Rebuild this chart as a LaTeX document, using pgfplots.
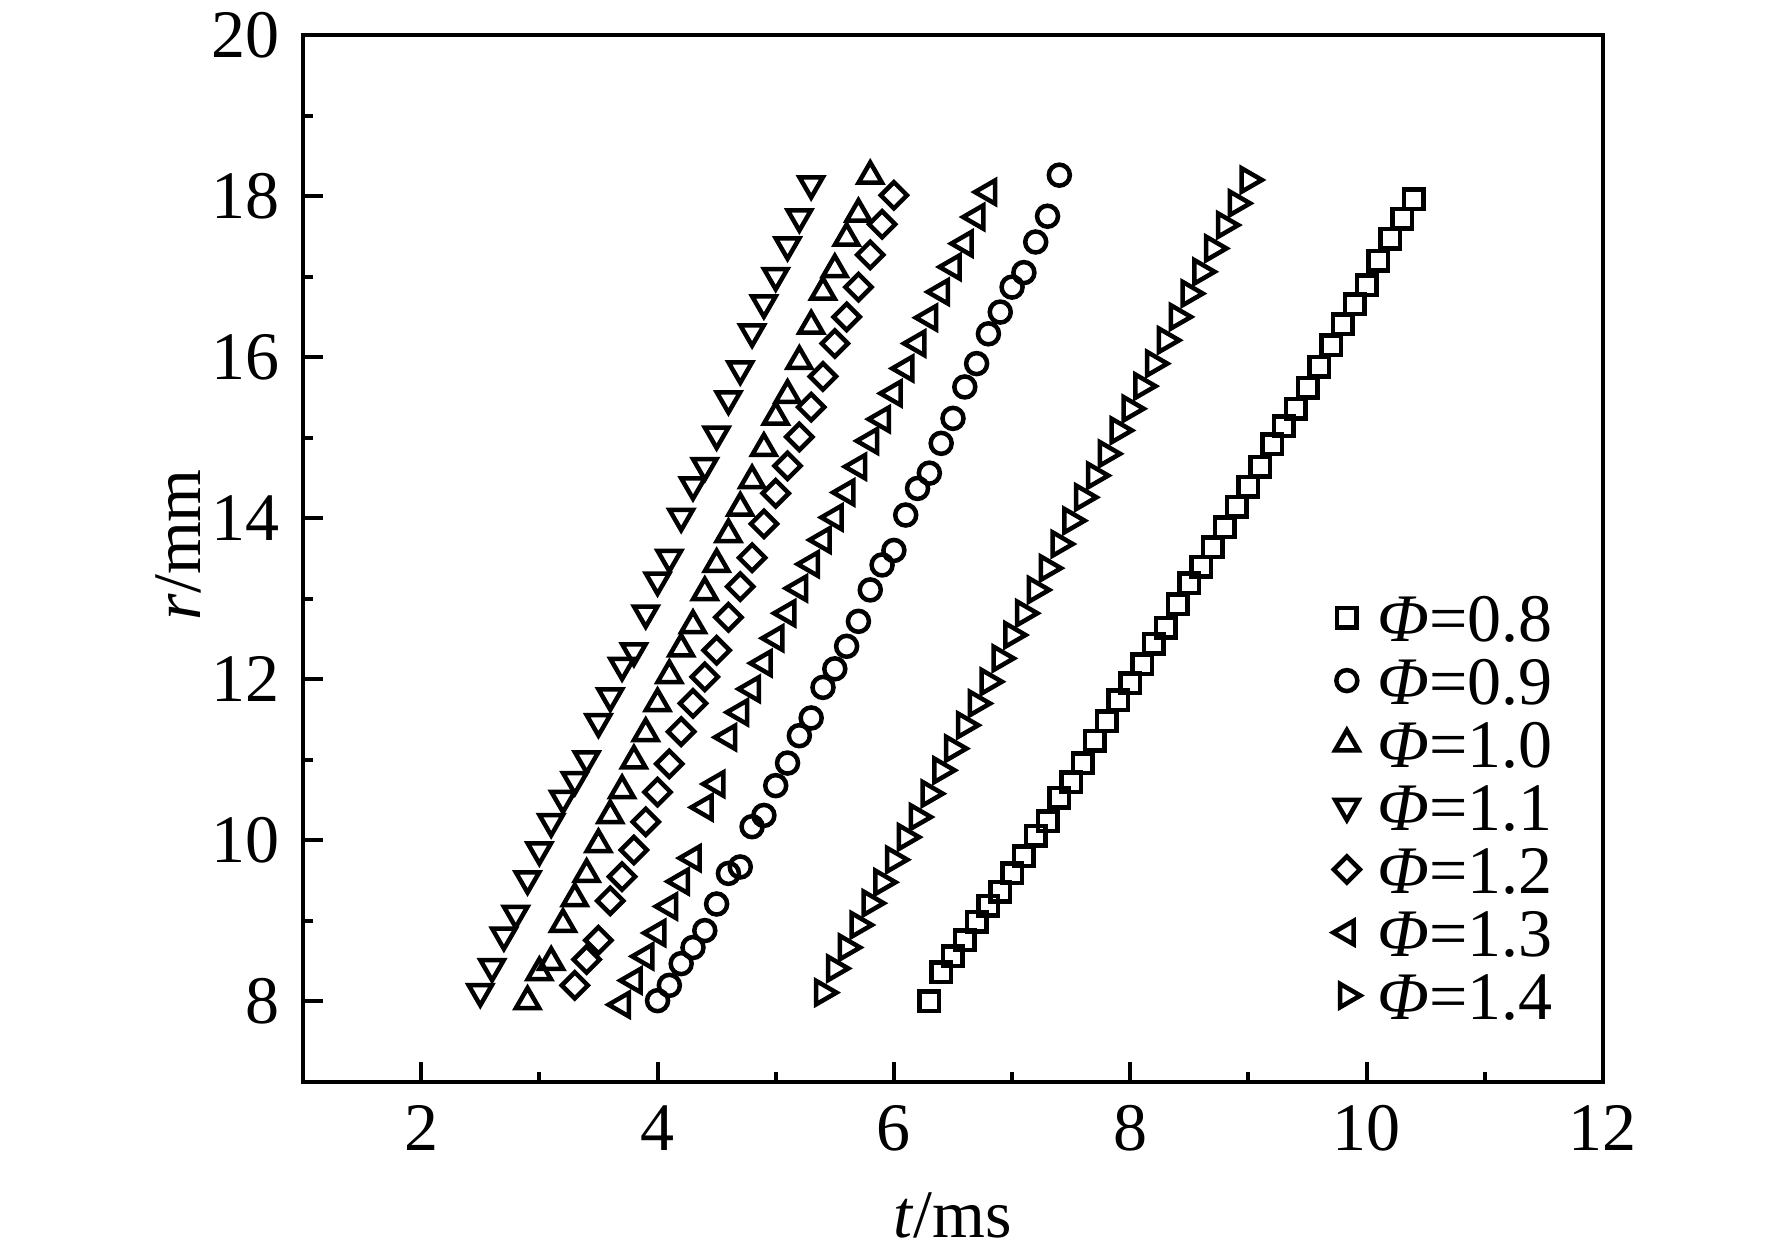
\documentclass[border=0pt]{standalone}
\usepackage{fontspec}
\setmainfont{Liberation Serif}
\usepackage{pgfplots}
\pgfplotsset{compat=1.18}
\begin{document}
\fontsize{13.6pt}{16pt}\selectfont
\begin{tikzpicture}
\begin{axis}[name=ax, scale only axis, width=260pt, height=209.4pt,
  xmin=1, xmax=12, ymin=7, ymax=20,
  xtick={2,4,...,12}, ytick={8,10,...,20},
  minor x tick num=1, minor y tick num=1,
  tick align=inside, tick pos=left,
  major tick length=4pt, minor tick length=2pt,
  axis line style={line width=0.8pt},
  every tick/.style={line width=0.8pt, black},
  /pgf/number format/assume math mode=true,
  xlabel={\textit{t}/ms}, ylabel={\textit{r}/mm},
  x label style={at={(axis description cs:0.5,-0.127)}, anchor=center},
  y label style={at={(axis description cs:-0.096,0.513)}, anchor=center},
  legend cell align=left,
  legend image code/.code={\draw[mark repeat=2,mark phase=2,#1] plot coordinates {(0cm,0cm) (0.12cm,0cm) (0.24cm,0cm)};},
  legend style={draw=none, fill=none, inner sep=0pt, row sep=0pt,
    at={(axis cs:9.71,13.17)}, anchor=north west,
    nodes={inner xsep=3.5pt, inner ysep=1.5pt, text height=9.6pt, text depth=0pt}},
  every axis plot/.append style={only marks, black, line width=0.9pt},
]
% Phi = 0.8
\addplot[mark=square, mark size=1.95pt, mark options={line width=0.9pt, fill=none, draw=black}] coordinates {
(6.3,8.00)(6.4,8.36)(6.5,8.56)(6.6,8.76)(6.7,8.99)(6.8,9.19)(6.9,9.36)(7.0,9.59)
(7.1,9.80)(7.2,10.06)(7.3,10.24)(7.4,10.53)(7.5,10.72)(7.6,10.96)(7.7,11.24)(7.8,11.48)
(7.9,11.74)(8.0,11.95)(8.1,12.19)(8.2,12.44)(8.3,12.64)(8.4,12.93)(8.5,13.19)(8.6,13.40)
(8.7,13.64)(8.8,13.89)(8.9,14.14)(9.0,14.39)(9.1,14.64)(9.2,14.92)(9.3,15.14)(9.4,15.36)
(9.5,15.62)(9.6,15.88)(9.7,16.15)(9.8,16.41)(9.9,16.66)(10.0,16.89)(10.1,17.20)(10.2,17.47)
(10.3,17.72)(10.4,17.96)};
\addlegendentry{\textit{Φ}=0.8}
% Phi = 0.9
\addplot[mark=o, mark size=2.1pt, mark options={line width=0.9pt, fill=none, draw=black}] coordinates {
(4.0,8.01)(4.1,8.20)(4.2,8.47)(4.3,8.67)(4.4,8.88)(4.5,9.21)(4.6,9.59)(4.7,9.67)
(4.8,10.17)(4.9,10.31)(5.0,10.68)(5.1,10.96)(5.2,11.30)(5.3,11.52)(5.4,11.90)(5.5,12.13)
(5.6,12.41)(5.7,12.72)(5.8,13.11)(5.9,13.42)(6.0,13.60)(6.1,14.04)(6.2,14.37)(6.3,14.56)
(6.4,14.93)(6.5,15.24)(6.6,15.63)(6.7,15.92)(6.8,16.29)(6.9,16.56)(7.0,16.87)(7.1,17.05)
(7.2,17.43)(7.3,17.75)(7.4,18.26)};
\addlegendentry{\textit{Φ}=0.9}
% Phi = 1.0
\addplot[mark=triangle, mark size=2.7pt, mark options={line width=0.9pt, fill=none, draw=black}] coordinates {
(2.9,8.00)(3.0,8.36)(3.1,8.49)(3.2,8.96)(3.3,9.28)(3.4,9.58)(3.5,9.95)(3.6,10.31)
(3.7,10.62)(3.8,10.99)(3.9,11.33)(4.0,11.70)(4.1,12.05)(4.2,12.38)(4.3,12.67)(4.4,13.08)
(4.5,13.43)(4.6,13.80)(4.7,14.13)(4.8,14.47)(4.9,14.87)(5.0,15.26)(5.1,15.53)(5.2,15.95)
(5.3,16.39)(5.4,16.81)(5.5,17.09)(5.6,17.48)(5.7,17.78)(5.8,18.25)};
\addlegendentry{\textit{Φ}=1.0}
% Phi = 1.1
\addplot[mark=triangle, mark size=2.7pt, mark options={line width=0.9pt, fill=none, draw=black, rotate=180}] coordinates {
(2.5,8.12)(2.6,8.43)(2.7,8.82)(2.8,9.09)(2.9,9.52)(3.0,9.88)(3.1,10.23)(3.2,10.52)
(3.3,10.75)(3.4,11.01)(3.5,11.47)(3.6,11.79)(3.7,12.17)(3.8,12.35)(3.9,12.82)(4.0,13.23)
(4.1,13.51)(4.2,14.02)(4.3,14.41)(4.4,14.65)(4.5,15.04)(4.6,15.48)(4.7,15.85)(4.8,16.31)
(4.9,16.67)(5.0,17.01)(5.1,17.39)(5.2,17.74)(5.3,18.15)};
\addlegendentry{\textit{Φ}=1.1}
% Phi = 1.2
\addplot[mark=square, mark size=1.85pt, mark options={line width=0.9pt, fill=none, draw=black, rotate=45}] coordinates {
(3.3,8.20)(3.4,8.52)(3.5,8.76)(3.6,9.25)(3.7,9.55)(3.8,9.88)(3.9,10.23)(4.0,10.60)
(4.1,10.95)(4.2,11.35)(4.3,11.70)(4.4,12.03)(4.5,12.36)(4.6,12.77)(4.7,13.15)(4.8,13.51)
(4.9,13.93)(5.0,14.31)(5.1,14.65)(5.2,15.01)(5.3,15.38)(5.4,15.76)(5.5,16.17)(5.6,16.50)
(5.7,16.87)(5.8,17.27)(5.9,17.65)(6.0,18.01)};
\addlegendentry{\textit{Φ}=1.2}
% Phi = 1.3
\addplot[mark=triangle, mark size=2.7pt, mark options={line width=0.9pt, fill=none, draw=black, rotate=90}] coordinates {
(3.7,7.96)(3.8,8.26)(3.9,8.56)(4.0,8.85)(4.1,9.18)(4.2,9.49)(4.3,9.78)(4.4,10.41)
(4.5,10.70)(4.6,11.28)(4.7,11.59)(4.8,11.88)(4.9,12.20)(5.0,12.51)(5.1,12.82)(5.2,13.13)
(5.3,13.43)(5.4,13.73)(5.5,14.01)(5.6,14.32)(5.7,14.64)(5.8,14.96)(5.9,15.23)(6.0,15.55)
(6.1,15.86)(6.2,16.17)(6.3,16.49)(6.4,16.81)(6.5,17.12)(6.6,17.41)(6.7,17.74)(6.8,18.05)};
\addlegendentry{\textit{Φ}=1.3}
% Phi = 1.4
\addplot[mark=triangle, mark size=2.7pt, mark options={line width=0.9pt, fill=none, draw=black, rotate=-90}] coordinates {
(5.4,8.11)(5.5,8.41)(5.6,8.67)(5.7,8.95)(5.8,9.22)(5.9,9.48)(6.0,9.76)(6.1,10.04)
(6.2,10.29)(6.3,10.58)(6.4,10.87)(6.5,11.14)(6.6,11.43)(6.7,11.70)(6.8,11.97)(6.9,12.26)
(7.0,12.55)(7.1,12.82)(7.2,13.11)(7.3,13.38)(7.4,13.68)(7.5,13.97)(7.6,14.26)(7.7,14.53)
(7.8,14.80)(7.9,15.09)(8.0,15.36)(8.1,15.64)(8.2,15.92)(8.3,16.21)(8.4,16.50)(8.5,16.79)
(8.6,17.06)(8.7,17.35)(8.8,17.64)(8.9,17.91)(9.0,18.20)};
\addlegendentry{\textit{Φ}=1.4}
\end{axis}
\pgfresetboundingbox
\path ([shift={(-60.6pt,-33.4pt)}]ax.south west) rectangle ([shift={(33.8pt,7pt)}]ax.north east);
\end{tikzpicture}
\end{document}
